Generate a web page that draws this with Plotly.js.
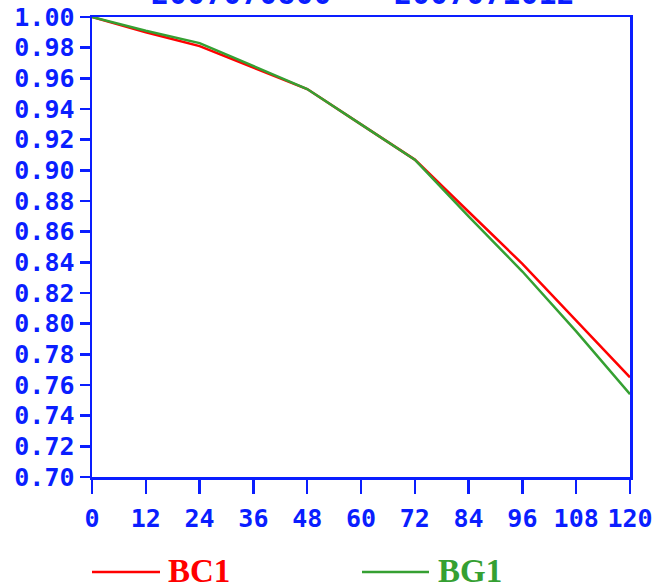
<!DOCTYPE html>
<html><head><meta charset="utf-8">
<script src="https://cdn.plot.ly/plotly-3.0.1.min.js"></script>
<style>html,body{margin:0;padding:0;background:#fff;}#chart{width:659px;height:588px;}</style>
</head><body><div id="chart"></div>
<script>
var hours = [0, 12, 24, 36, 48, 60, 72, 84, 96, 108, 120];
var bc1 = [1.000, 0.990, 0.981, 0.967, 0.953, 0.930, 0.907, 0.873, 0.839, 0.802, 0.765];
var bg1 = [1.000, 0.991, 0.983, 0.968, 0.953, 0.930, 0.907, 0.870, 0.834, 0.795, 0.754];
var seriesNames = ["BC1", "BG1"];
var titleTexts = ["2007070800", "2007071012"];
var xTicks = [0, 12, 24, 36, 48, 60, 72, 84, 96, 108, 120];
var yTicks = [0.70,0.72,0.74,0.76,0.78,0.80,0.82,0.84,0.86,0.88,0.90,0.92,0.94,0.96,0.98,1.00];

var BLUE = "#0a1eff";
var RED = "#ff0000";
var GREEN = "#35a032";
var tickFont = {family: "DejaVu Sans Mono", size: 25, color: BLUE, weight: "bold"};
var legY = -94/460;

var traces = [
  {x: hours, y: bc1, name: seriesNames[0], mode: "lines", line: {color: RED, width: 2.5}},
  {x: hours, y: bg1, name: seriesNames[1], mode: "lines", line: {color: GREEN, width: 2.5}}
];

var layout = {
  width: 659, height: 588,
  margin: {l: 92, r: 29, t: 17, b: 111},
  paper_bgcolor: "#fff", plot_bgcolor: "#fff",
  showlegend: false,
  xaxis: {range: [0, 120], tickvals: xTicks, ticktext: xTicks.map(String),
    showgrid: false, zeroline: false, showline: true, mirror: true,
    linecolor: BLUE, linewidth: 2.5, ticks: "outside", ticklen: 14, tickwidth: 2.5,
    tickcolor: BLUE, tickfont: tickFont, ticklabelstandoff: 3},
  yaxis: {range: [0.70, 1.00], tickvals: yTicks, ticktext: yTicks.map(function(v){return v.toFixed(2);}),
    showgrid: false, zeroline: false, showline: true, mirror: true,
    linecolor: BLUE, linewidth: 2.5, ticks: "outside", ticklen: 10, tickwidth: 2.5,
    tickcolor: BLUE, tickfont: tickFont, ticklabelstandoff: 0},
  shapes: [
    {type: "line", xref: "paper", yref: "paper", x0: 0/538, x1: 68/538, y0: -95/460, y1: -95/460, line: {color: RED, width: 2.5}},
    {type: "line", xref: "paper", yref: "paper", x0: 270/538, x1: 337/538, y0: -95/460, y1: -95/460, line: {color: GREEN, width: 2.5}}
  ],
  annotations: [
    {text: seriesNames[0], xref: "paper", yref: "paper", x: 74/538, y: legY, xanchor: "left", yanchor: "middle", showarrow: false,
      font: {family: "Liberation Serif", size: 33, color: RED, weight: "bold"}},
    {text: seriesNames[1], xref: "paper", yref: "paper", x: 344/538, y: legY, xanchor: "left", yanchor: "middle", showarrow: false,
      font: {family: "Liberation Serif", size: 33, color: GREEN, weight: "bold"}},
    {text: titleTexts[0], xref: "paper", yref: "paper", x: 149/538, y: 1 + 4/460, xanchor: "center", yanchor: "bottom", showarrow: false,
      font: {family: "DejaVu Sans Mono", size: 30, color: BLUE, weight: "bold"}},
    {text: titleTexts[1], xref: "paper", yref: "paper", x: 392/538, y: 1 + 4/460, xanchor: "center", yanchor: "bottom", showarrow: false,
      font: {family: "DejaVu Sans Mono", size: 30, color: BLUE, weight: "bold"}}
  ]
};
Plotly.newPlot("chart", traces, layout, {staticPlot: true});
</script></body></html>
